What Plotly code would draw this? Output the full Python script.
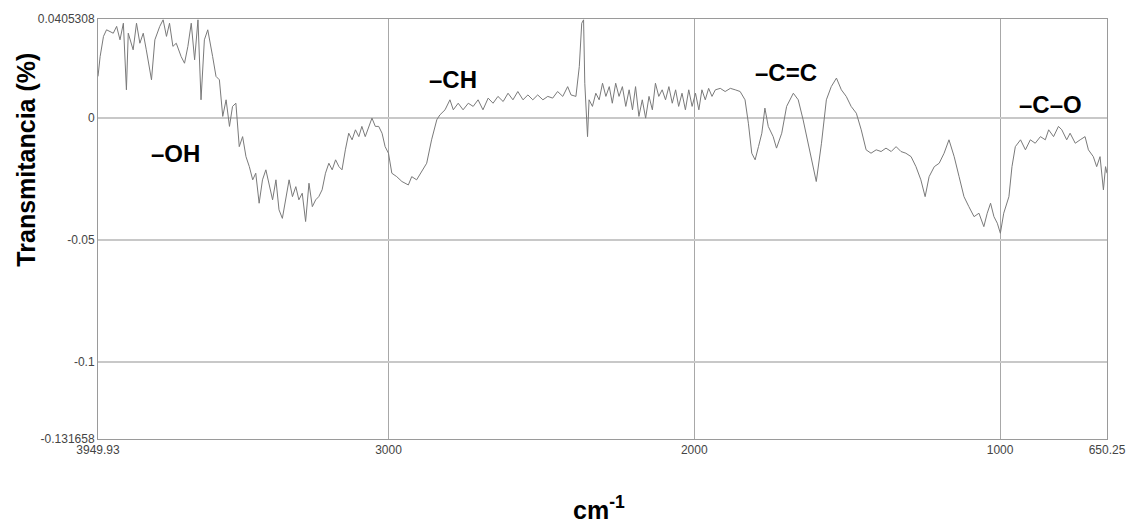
import plotly.graph_objects as go

wavenumber = [
    3949.93, 3943, 3932, 3922, 3900, 3889, 3878, 3867, 3857, 3851, 3835, 3824, 3813, 3802, 3792,
    3775, 3764, 3748, 3737, 3726, 3716, 3705, 3694, 3678, 3667, 3656, 3645, 3634, 3623, 3613,
    3602, 3591, 3575, 3564, 3553, 3542, 3531, 3520, 3510, 3499, 3488, 3477, 3466, 3455, 3444,
    3434, 3423, 3412, 3401, 3390, 3379, 3368, 3358, 3347, 3336, 3325, 3314, 3303, 3293, 3282,
    3271, 3260, 3249, 3238, 3228, 3217, 3206, 3195, 3184, 3173, 3162, 3152, 3141, 3130, 3119,
    3108, 3097, 3087, 3076, 3065, 3054, 3043, 3032, 3021, 3011, 3000, 2989, 2973, 2956, 2935,
    2924, 2908, 2891, 2875, 2859, 2842, 2832, 2815, 2799, 2788, 2772, 2756, 2739, 2723, 2707,
    2691, 2674, 2658, 2642, 2625, 2609, 2593, 2577, 2560, 2544, 2528, 2512, 2495, 2479, 2463,
    2447, 2430, 2414, 2403, 2387, 2376, 2368, 2362, 2358, 2349, 2344, 2333, 2322, 2311, 2300,
    2289, 2278, 2268, 2257, 2246, 2235, 2224, 2213, 2202, 2192, 2181, 2170, 2159, 2148, 2137,
    2127, 2116, 2105, 2094, 2083, 2072, 2061, 2051, 2040, 2029, 2018, 2007, 1996, 1985, 1975,
    1964, 1953, 1942, 1931, 1915, 1899, 1882, 1866, 1850, 1834, 1823, 1812, 1801, 1790, 1779,
    1769, 1758, 1742, 1731, 1714, 1698, 1676, 1660, 1644, 1622, 1601, 1584, 1568, 1552, 1535,
    1519, 1503, 1487, 1470, 1454, 1438, 1422, 1405, 1389, 1373, 1356, 1340, 1324, 1308, 1291,
    1275, 1259, 1245, 1232, 1215, 1199, 1183, 1167, 1150, 1134, 1118, 1102, 1085, 1069, 1053,
    1042, 1031, 1020, 1009, 999, 988, 971, 961, 950, 933, 917, 901, 885, 868, 852,
    841, 825, 809, 798, 782, 771, 754, 738, 722, 711, 695, 684, 673, 662, 655, 650.25,
]
transmittance = [
    0.0170, 0.0251, 0.0334, 0.0361, 0.0347, 0.0375, 0.0320, 0.0388, 0.0115, 0.0347, 0.0279, 0.0388, 0.0306, 0.0347, 0.0279,
    0.0156, 0.0320, 0.0375, 0.0402, 0.0334, 0.0388, 0.0293, 0.0306, 0.0251, 0.0224, 0.0293, 0.0388, 0.0238, 0.0402, 0.0074,
    0.0320, 0.0361, 0.0251, 0.0170, 0.0156, 0.0006, 0.0074, -0.0035, 0.0047, 0.0060, -0.0118, -0.0077, -0.0159, -0.0200, -0.0254,
    -0.0227, -0.0350, -0.0254, -0.0213, -0.0282, -0.0336, -0.0254, -0.0377, -0.0412, -0.0336, -0.0254, -0.0323, -0.0282, -0.0336, -0.0309,
    -0.0425, -0.0268, -0.0364, -0.0336, -0.0323, -0.0295, -0.0227, -0.0186, -0.0213, -0.0172, -0.0200, -0.0213, -0.0131, -0.0063, -0.0090,
    -0.0049, -0.0077, -0.0035, -0.0077, -0.0035, -0.0001, -0.0035, -0.0035, -0.0063, -0.0118, -0.0145, -0.0227, -0.0241, -0.0261, -0.0275,
    -0.0241, -0.0254, -0.0220, -0.0186, -0.0090, -0.0008, 0.0012, 0.0033, 0.0074, 0.0033, 0.0060, 0.0033, 0.0060, 0.0047, 0.0074,
    0.0033, 0.0081, 0.0060, 0.0088, 0.0067, 0.0101, 0.0074, 0.0108, 0.0074, 0.0094, 0.0074, 0.0094, 0.0074, 0.0088, 0.0081,
    0.0108, 0.0088, 0.0128, 0.0094, 0.0088, 0.0210, 0.0388, 0.0402, 0.0142, -0.0077, 0.0074, 0.0047, 0.0101, 0.0074, 0.0142,
    0.0088, 0.0128, 0.0060, 0.0142, 0.0088, 0.0128, 0.0047, 0.0115, 0.0033, 0.0128, 0.0006, 0.0074, -0.0001, 0.0088, 0.0033,
    0.0142, 0.0088, 0.0115, 0.0074, 0.0128, 0.0060, 0.0115, 0.0047, 0.0101, 0.0033, 0.0115, 0.0047, 0.0101, 0.0033, 0.0115,
    0.0074, 0.0121, 0.0088, 0.0115, 0.0121, 0.0108, 0.0121, 0.0115, 0.0108, 0.0074, -0.0022, -0.0145, -0.0172, -0.0118, -0.0063,
    0.0040, -0.0035, -0.0077, -0.0124, -0.0063, 0.0047, 0.0101, 0.0074, -0.0008, -0.0131, -0.0261, -0.0104, 0.0074, 0.0128, 0.0163,
    0.0115, 0.0088, 0.0047, 0.0019, -0.0049, -0.0131, -0.0145, -0.0131, -0.0138, -0.0124, -0.0138, -0.0118, -0.0138, -0.0145, -0.0159,
    -0.0200, -0.0254, -0.0323, -0.0241, -0.0200, -0.0186, -0.0145, -0.0090, -0.0159, -0.0241, -0.0323, -0.0364, -0.0405, -0.0391, -0.0446,
    -0.0391, -0.0350, -0.0405, -0.0432, -0.0473, -0.0391, -0.0323, -0.0200, -0.0118, -0.0090, -0.0131, -0.0090, -0.0104, -0.0077, -0.0090,
    -0.0049, -0.0077, -0.0035, -0.0049, -0.0090, -0.0063, -0.0104, -0.0090, -0.0077, -0.0131, -0.0159, -0.0200, -0.0159, -0.0295, -0.0200, -0.0227,
]

x_tickvals = [3949.93, 3000, 2000, 1000, 650.25]
x_ticktext = ["3949.93", "3000", "2000", "1000", "650.25"]
y_tickvals = [0.0405308, 0, -0.05, -0.1, -0.131658]
y_ticktext = ["0.0405308", "0", "-0.05", "-0.1", "-0.131658"]

band_labels = ["–OH", "–CH", "–C=C", "–C–O"]
band_x = [3696, 2788, 1701, 836]
band_y = [-0.0148, 0.0156, 0.0185, 0.0053]

fig = go.Figure()
fig.add_trace(go.Scatter(
    x=wavenumber, y=transmittance, mode="lines",
    line=dict(color="#7a7a7a", width=1), showlegend=False,
))

tickfont = dict(family="Liberation Sans Narrow, Arial Narrow, Liberation Sans, Arial", size=12, color="#444444")

fig.update_xaxes(
    range=[3949.93, 650.25], tickvals=x_tickvals, ticktext=x_ticktext,
    showgrid=True, gridcolor="#a8a8a8", gridwidth=1,
    showline=True, linecolor="#9a9a9a", linewidth=1, mirror=True,
    ticks="", tickfont=tickfont, zeroline=False, ticklabeloverflow="allow",
)
fig.update_yaxes(
    range=[-0.131658, 0.0405308], tickvals=y_tickvals, ticktext=y_ticktext,
    showgrid=True, gridcolor="#c8c8c8", gridwidth=2,
    showline=True, linecolor="#9a9a9a", linewidth=1, mirror=True,
    ticks="", tickfont=tickfont, zeroline=False,
)

for t, bx, by in zip(band_labels, band_x, band_y):
    fig.add_annotation(x=bx, y=by, text="<b>%s</b>" % t, showarrow=False,
                       font=dict(family="Liberation Sans, Arial", size=24, color="#000000"))

fig.add_annotation(xref="paper", yref="paper", x=-0.071, y=0.666, text="<b>Transmitancia (%)</b>",
                   textangle=-90, showarrow=False, xanchor="center", yanchor="middle",
                   font=dict(family="Liberation Sans, Arial", size=25, color="#000000"))
fig.add_annotation(xref="paper", yref="paper", x=0.497, y=-0.164, xanchor="center", yanchor="middle",
                   text="<b>cm<sup>-1</sup></b>", showarrow=False,
                   font=dict(family="Liberation Sans, Arial", size=25, color="#000000"))

fig.update_layout(
    width=1138, height=525,
    margin=dict(l=98, r=26, t=19, b=86),
    paper_bgcolor="white", plot_bgcolor="white",
)

fig.write_html("out.html", config={"displayModeBar": False},
               post_script="document.body.style.margin='0';")
